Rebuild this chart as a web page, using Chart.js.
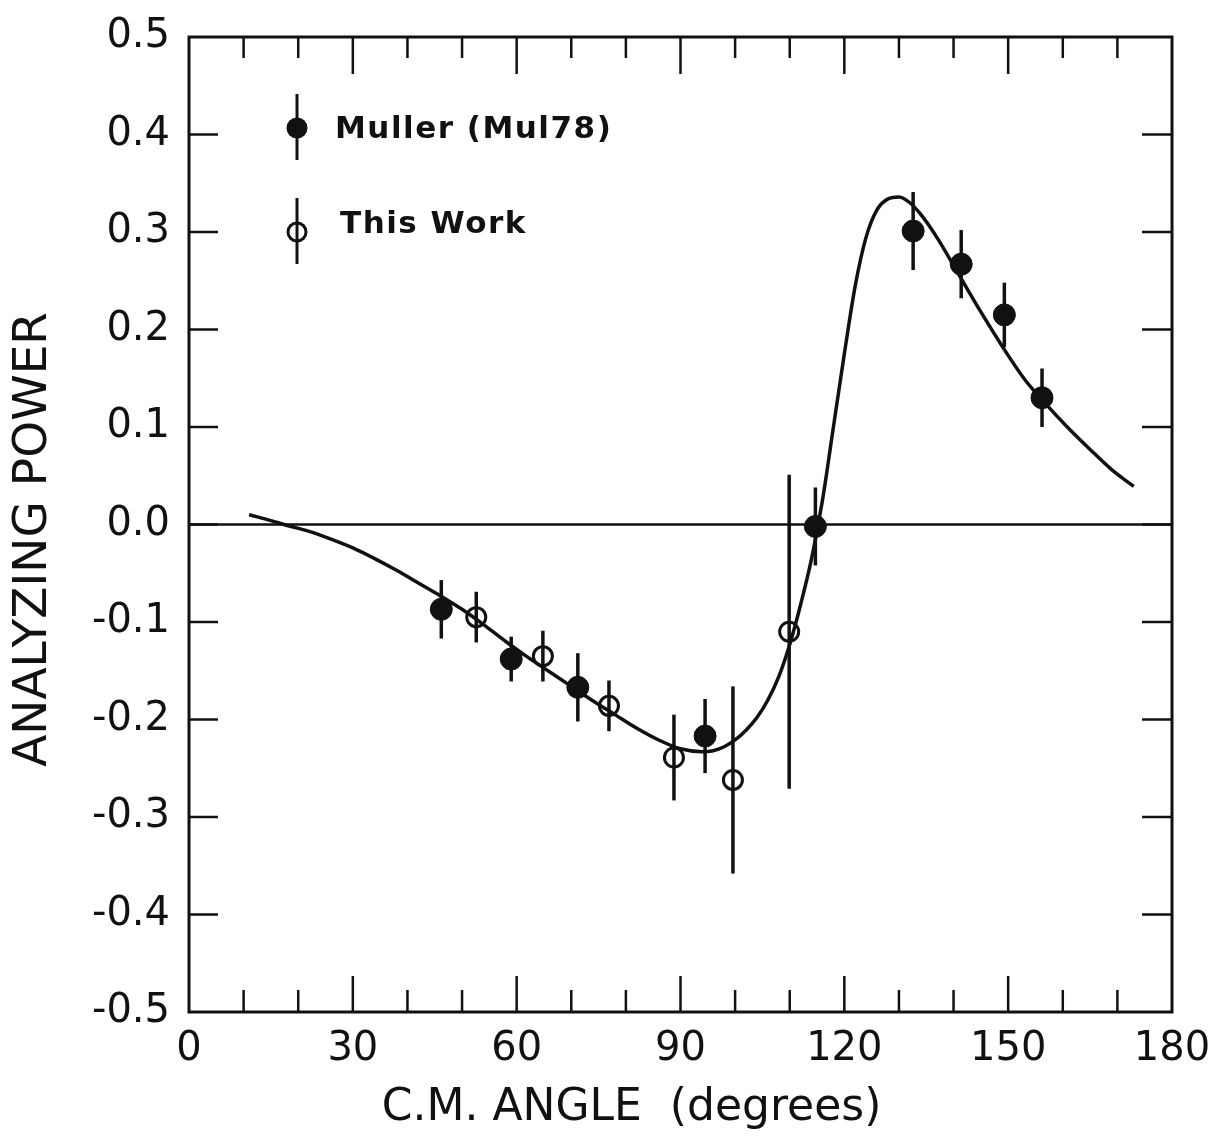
<!DOCTYPE html>
<html>
<head>
<meta charset="utf-8">
<script src="https://cdn.jsdelivr.net/npm/chart.js@4.4.0/dist/chart.umd.min.js"></script>
<style>
  html, body { margin: 0; padding: 0; background: #fff; }
  #wrap { width: 1208px; height: 1147px; }
</style>
</head>
<body>
<div id="wrap"><canvas id="chart" width="1208" height="1147"></canvas></div>
<script>
  // fitted curve (angle in degrees, analyzing power)
  const curveAngle = [11, 15, 18, 22, 26, 30, 34, 38, 42, 46, 50, 54, 58, 62, 66, 70, 74, 78, 82, 86,
    90, 94, 96, 98, 100, 102, 104, 106, 108, 110, 112, 114, 116, 118, 120, 122, 124, 126, 128, 130,
    132, 134, 137, 141, 145, 149, 153, 157, 161, 165, 169, 173];
  const curvePower = [0.010, 0.004, -0.001, -0.007, -0.015, -0.024, -0.035, -0.047, -0.060, -0.073,
    -0.087, -0.103, -0.120, -0.136, -0.151, -0.166, -0.181, -0.195, -0.209, -0.221,
    -0.230, -0.233, -0.232, -0.228, -0.221, -0.211, -0.198, -0.180, -0.156, -0.123,
    -0.082, -0.035, 0.025, 0.100, 0.175, 0.245, 0.295, 0.323, 0.334, 0.336,
    0.330, 0.318, 0.294, 0.256, 0.218, 0.182, 0.149, 0.123, 0.099, 0.077, 0.056, 0.039];

  // Muller (Mul78), filled circles
  const mullerAngle = [46.2, 59.0, 71.2, 94.5, 114.7, 132.6, 141.4, 149.3, 156.2];
  const mullerPower = [-0.087, -0.138, -0.167, -0.217, -0.002, 0.301, 0.267, 0.215, 0.130];
  const mullerErr   = [0.030, 0.023, 0.035, 0.038, 0.040, 0.040, 0.035, 0.033, 0.030];

  // This Work, open circles
  const workAngle = [52.6, 64.8, 76.9, 88.8, 99.6, 109.9];
  const workPower = [-0.095, -0.135, -0.186, -0.239, -0.262, -0.110];
  const workErr   = [0.026, 0.026, 0.026, 0.044, 0.096, 0.161];

  const xTicks = [0, 30, 60, 90, 120, 150, 180];
  const yTicks = [-0.5, -0.4, -0.3, -0.2, -0.1, 0.0, 0.1, 0.2, 0.3, 0.4, 0.5];

  const legendItems = ["Muller (Mul78)", "This Work"];

  const INK = "#111";

  function pts(xs, ys) {
    return xs.map(function (x, i) { return { x: x, y: ys[i] }; });
  }

  // frame, inward ticks, error bars, legend
  const framePlugin = {
    id: "frame",
    beforeDatasetsDraw(chart) {
      const ctx = chart.ctx;
      const xs = chart.scales.x, ys = chart.scales.y;
      const a = chart.chartArea;
      ctx.save();
      ctx.strokeStyle = INK;
      ctx.lineCap = "butt";

      // error bars
      ctx.lineWidth = 3.5;
      const bars = [[mullerAngle, mullerPower, mullerErr], [workAngle, workPower, workErr]];
      bars.forEach(function (b) {
        b[0].forEach(function (x, i) {
          const px = xs.getPixelForValue(x);
          ctx.beginPath();
          ctx.moveTo(px, ys.getPixelForValue(b[1][i] + b[2][i]));
          ctx.lineTo(px, ys.getPixelForValue(b[1][i] - b[2][i]));
          ctx.stroke();
        });
      });

      // box
      ctx.lineWidth = 3;
      ctx.strokeRect(a.left, a.top, a.right - a.left, a.bottom - a.top);

      // x ticks every 10 deg, long at 30s
      ctx.lineWidth = 2.5;
      for (let v = 10; v < 180; v += 10) {
        const px = xs.getPixelForValue(v);
        const len = v % 30 === 0 ? 36 : 22;
        ctx.beginPath();
        ctx.moveTo(px, a.bottom);
        ctx.lineTo(px, a.bottom - len);
        ctx.moveTo(px, a.top);
        ctx.lineTo(px, a.top + (v % 30 === 0 ? 37 : 21));
        ctx.stroke();
      }
      // y ticks both sides
      yTicks.forEach(function (v) {
        if (v === -0.5 || v === 0.5) return;
        const py = ys.getPixelForValue(v);
        ctx.beginPath();
        ctx.moveTo(a.left, py);
        ctx.lineTo(a.left + 29, py);
        ctx.moveTo(a.right, py);
        ctx.lineTo(a.right - 30, py);
        ctx.stroke();
      });

      // zero line
      ctx.lineWidth = 2.5;
      const zy = ys.getPixelForValue(0);
      ctx.beginPath();
      ctx.moveTo(a.left, zy);
      ctx.lineTo(a.right, zy);
      ctx.stroke();

      // legend
      const lx = a.left + 108;
      const rows = [a.top + 91, a.top + 195];
      ctx.lineWidth = 3;
      rows.forEach(function (ry, i) {
        ctx.beginPath();
        ctx.moveTo(lx, ry - 34);
        ctx.lineTo(lx, ry + 32);
        ctx.stroke();
        ctx.beginPath();
        ctx.arc(lx, ry, i === 0 ? 10.5 : 9, 0, Math.PI * 2);
        if (i === 0) {
          ctx.fillStyle = INK;
          ctx.fill();
        } else {
          ctx.stroke();
        }
      });
      ctx.fillStyle = INK;
      ctx.font = "bold 31px 'DejaVu Sans'";
      ctx.textBaseline = "middle";
      ctx.textAlign = "left";
      try { ctx.letterSpacing = "1.5px"; } catch (e) {}
      ctx.fillText(legendItems[0], lx + 38, rows[0] + 2);
      ctx.fillText(legendItems[1], lx + 43, rows[1] - 7);
      ctx.restore();
    },
  };

  new Chart(document.getElementById("chart"), {
    type: "scatter",
    data: {
      datasets: [
        {
          type: "line",
          label: "fit",
          data: pts(curveAngle, curvePower),
          borderColor: INK,
          borderWidth: 3.5,
          pointRadius: 0,
          cubicInterpolationMode: "monotone",
          fill: false,
        },
        {
          label: legendItems[0],
          data: pts(mullerAngle, mullerPower),
          pointRadius: 11,
          pointBackgroundColor: INK,
          pointBorderColor: INK,
          pointBorderWidth: 1,
        },
        {
          label: legendItems[1],
          data: pts(workAngle, workPower),
          pointRadius: 9.5,
          pointBackgroundColor: "rgba(255,255,255,0)",
          pointBorderColor: INK,
          pointBorderWidth: 3,
        },
      ],
    },
    options: {
      responsive: false,
      animation: false,
      events: [],
      layout: { padding: { left: 0, top: 37, right: 36, bottom: 0 } },
      plugins: { legend: { display: false }, tooltip: { enabled: false } },
      scales: {
        x: {
          type: "linear",
          min: 0,
          max: 180,
          afterBuildTicks: function (s) {
            s.ticks = xTicks.map(function (v) { return { value: v }; });
          },
          afterFit: function (s) {
            s.height = 135;
            s.paddingLeft = 0;
            s.paddingRight = 0;
          },
          grid: { display: false, drawTicks: false },
          border: { display: false },
          ticks: {
            color: INK,
            padding: 14,
            maxRotation: 0,
            autoSkip: false,
            font: { family: "'DejaVu Sans'", size: 40, weight: "normal" },
          },
          title: {
            display: true,
            text: "C.M. ANGLE  (degrees)       ",
            color: INK,
            padding: { top: 0, bottom: 12 },
            font: { family: "'DejaVu Sans'", size: 44, weight: "normal" },
          },
        },
        y: {
          type: "linear",
          min: -0.5,
          max: 0.5,
          afterBuildTicks: function (s) {
            s.ticks = yTicks.map(function (v) { return { value: v }; });
          },
          afterFit: function (s) {
            s.width = 189;
            s.paddingTop = 0;
            s.paddingBottom = 0;
          },
          grid: { display: false, drawTicks: false },
          border: { display: false },
          ticks: {
            color: INK,
            padding: 19,
            autoSkip: false,
            callback: function (v) { return Number(v).toFixed(1); },
            font: { family: "'DejaVu Sans'", size: 40, weight: "normal" },
          },
          title: {
            display: true,
            text: "ANALYZING POWER  ",
            color: INK,
            padding: { top: 6, bottom: 0 },
            font: { family: "'DejaVu Sans'", size: 47, weight: "normal" },
          },
        },
      },
    },
    plugins: [framePlugin],
  });
</script>
</body>
</html>
